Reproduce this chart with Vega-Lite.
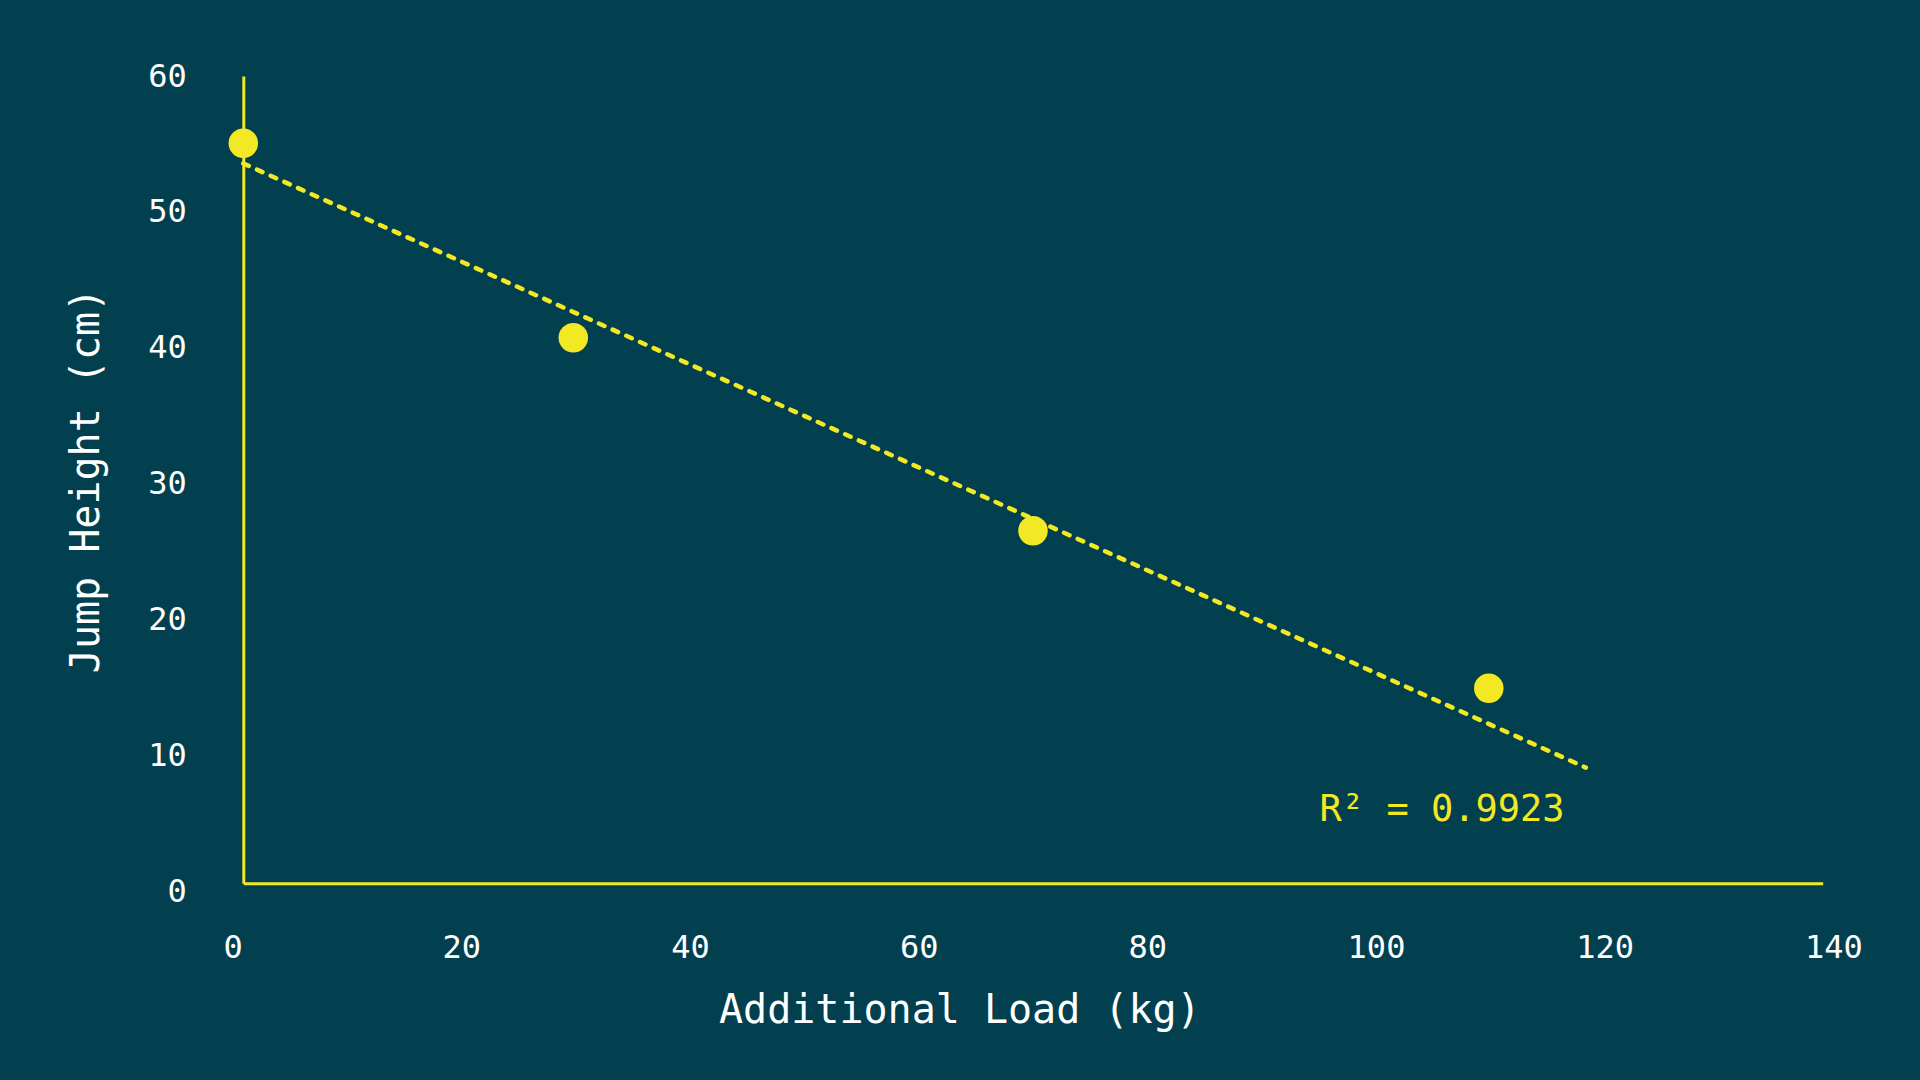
{
  "$schema": "https://vega.github.io/schema/vega-lite/v6.json",
  "autosize": {"type": "none"},
  "width": 1579.4,
  "height": 807.3,
  "padding": {"left": 243.3, "top": 76, "right": 97.3, "bottom": 196.7},
  "background": "#02404F",
  "config": {
    "view": {"stroke": null},
    "font": "DejaVu Sans Mono"
  },
  "datasets": {
    "jumps": [
      {"load": 0, "height": 55.0},
      {"load": 29.25, "height": 40.55},
      {"load": 70, "height": 26.2},
      {"load": 110.4, "height": 14.5}
    ],
    "trend": [
      {"load": 0, "height": 53.5},
      {"load": 119, "height": 8.6}
    ],
    "note": [
      {"load": 95.4, "height": 4.65, "label": "R² = 0.9923"}
    ]
  },
  "encoding": {
    "x": {
      "field": "load",
      "type": "quantitative",
      "scale": {"domain": [0, 140], "nice": false, "zero": false},
      "axis": {
        "title": "Additional Load (kg)",
        "values": [0, 20, 40, 60, 80, 100, 120, 140],
        "grid": false,
        "ticks": false,
        "tickSize": 0,
        "domainColor": "#F2E824",
        "domainWidth": 3,
        "labelFont": "DejaVu Sans Mono",
        "labelFontSize": 32,
        "labelColor": "#FFFFFF",
        "labelBaseline": "alphabetic",
        "labelPadding": 74,
        "labelFlush": false,
        "labelOverlap": false,
        "labelOffset": {"expr": "(datum.value - 70) * 0.1514"},
        "titleFont": "DejaVu Sans Mono",
        "titleFontSize": 40,
        "titleFontWeight": "normal",
        "titleColor": "#FFFFFF",
        "titleAlign": "center",
        "titleBaseline": "alphabetic",
        "titleX": 716,
        "titleY": 139
      }
    },
    "y": {
      "field": "height",
      "type": "quantitative",
      "scale": {"domain": [0, 60], "nice": false, "zero": false},
      "axis": {
        "title": "Jump Height (cm)",
        "values": [0, 10, 20, 30, 40, 50, 60],
        "grid": false,
        "ticks": false,
        "tickSize": 0,
        "domainColor": "#F2E824",
        "domainWidth": 3,
        "labelFont": "DejaVu Sans Mono",
        "labelFontSize": 32,
        "labelColor": "#FFFFFF",
        "labelAlign": "right",
        "labelBaseline": "middle",
        "labelPadding": 57,
        "labelFlush": false,
        "labelOverlap": false,
        "labelOffset": {"expr": "(60 - datum.value) * 0.14"},
        "titleFont": "DejaVu Sans Mono",
        "titleFontSize": 40,
        "titleFontWeight": "normal",
        "titleColor": "#FFFFFF",
        "titleAngle": 270,
        "titleAlign": "center",
        "titleBaseline": "alphabetic",
        "titleX": -145,
        "titleY": 404
      }
    }
  },
  "layer": [
    {
      "data": {"name": "trend"},
      "mark": {
        "type": "line",
        "color": "#F2E824",
        "strokeWidth": 4.5,
        "strokeDash": [6, 9],
        "strokeCap": "round"
      }
    },
    {
      "data": {"name": "jumps"},
      "mark": {"type": "circle", "size": 870, "color": "#F2E824", "opacity": 1}
    },
    {
      "data": {"name": "note"},
      "mark": {
        "type": "text",
        "color": "#F2E824",
        "font": "DejaVu Sans Mono",
        "fontSize": 37,
        "align": "left",
        "baseline": "alphabetic"
      },
      "encoding": {"text": {"field": "label"}}
    }
  ]
}
